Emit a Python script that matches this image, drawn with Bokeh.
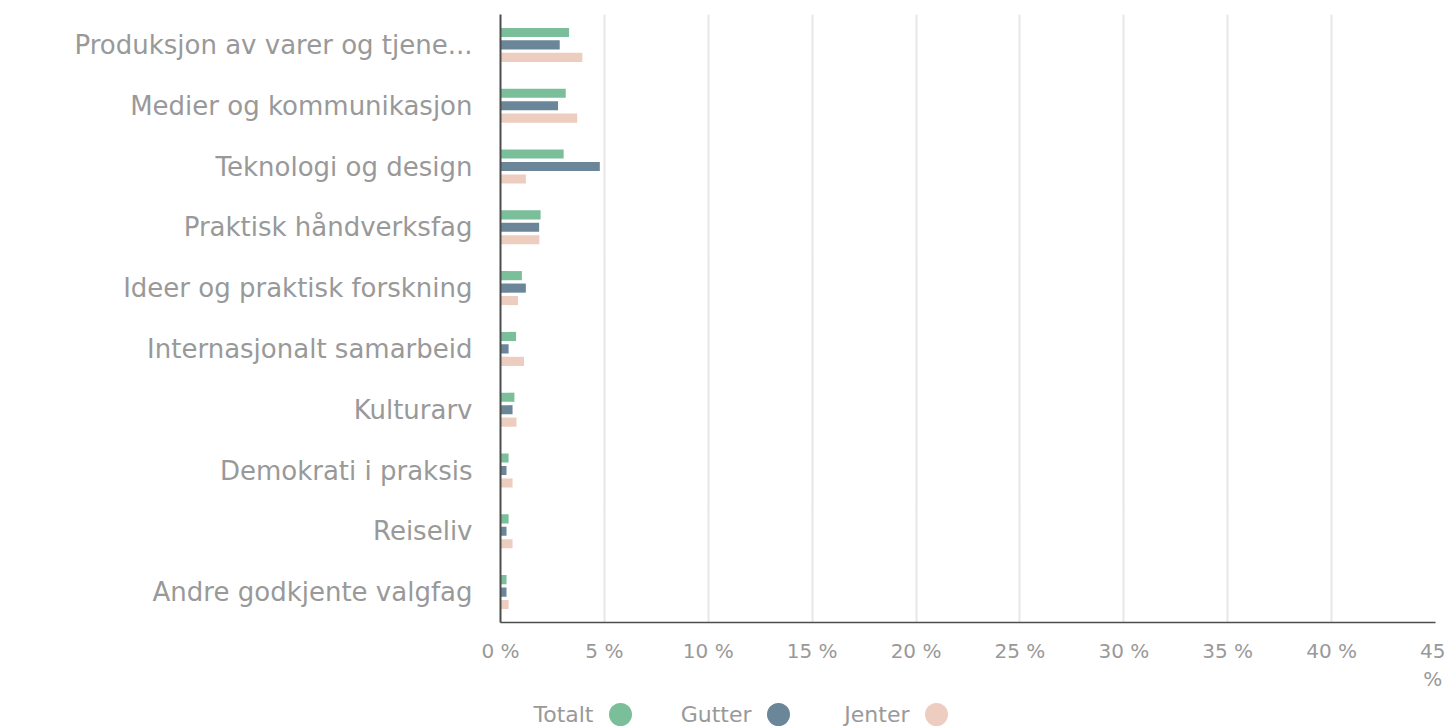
from bokeh.plotting import figure
from bokeh.models import ColumnDataSource, FactorRange, FixedTicker, Range1d
from bokeh.transform import dodge
from bokeh.layouts import column
from bokeh.core.properties import value
from bokeh.embed import file_html
from bokeh.resources import INLINE

categories = [
    "Produksjon av varer og tjene...",
    "Medier og kommunikasjon",
    "Teknologi og design",
    "Praktisk håndverksfag",
    "Ideer og praktisk forskning",
    "Internasjonalt samarbeid",
    "Kulturarv",
    "Demokrati i praksis",
    "Reiseliv",
    "Andre godkjente valgfag",
]
totalt = [3.30, 3.14, 3.04, 1.93, 1.03, 0.75, 0.67, 0.39, 0.39, 0.29]
gutter = [2.85, 2.77, 4.78, 1.86, 1.22, 0.39, 0.58, 0.29, 0.29, 0.29]
jenter = [3.94, 3.69, 1.22, 1.87, 0.84, 1.13, 0.77, 0.58, 0.58, 0.39]
series_names = ["Totalt", "Gutter", "Jenter"]
colors = ["#7bbe9a", "#6b8699", "#edcdc0"]
tick_values = [0, 5, 10, 15, 20, 25, 30, 35, 40, 45]
tick_labels = {0: "0 %", 5: "5 %", 10: "10 %", 15: "15 %", 20: "20 %",
               25: "25 %", 30: "30 %", 35: "35 %", 40: "40 %", 45: "45\n%"}

FRAME_LEFT = 500
FRAME_W = 935

src = ColumnDataSource(dict(cat=categories, Totalt=totalt, Gutter=gutter, Jenter=jenter))

p = figure(
    frame_width=FRAME_W, frame_height=608,
    y_range=FactorRange(*reversed(categories)),
    x_range=(0, 45),
    output_backend="svg", toolbar_location=None,
    min_border_left=FRAME_LEFT, min_border_right=10, min_border_top=14, min_border_bottom=78,
)
p.outline_line_color = None
p.background_fill_color = "white"

offsets = [-0.205, 0.0, 0.205]
for name, col, off in zip(series_names, colors, offsets):
    p.hbar(y=dodge("cat", -off, range=p.y_range), right=name, left=0, height=0.15,
           source=src, color=col, line_color=None)

# grid
p.ygrid.grid_line_color = None
p.xgrid.grid_line_color = "#e6e6e6"
p.xgrid.grid_line_width = 2
p.xaxis.ticker = FixedTicker(ticks=tick_values)
p.xaxis.major_label_overrides = tick_labels

for ax in (p.xaxis, p.yaxis):
    ax.axis_line_color = "#4d4d4d"
    ax.axis_line_width = 2
    ax.major_tick_line_color = None
    ax.minor_tick_line_color = None
    ax.major_label_text_color = "#999999"
    ax.major_label_text_font = "DejaVu Sans"

p.yaxis.major_label_text_font_size = "26px"
p.yaxis.major_label_standoff = 22
p.xaxis.major_label_text_font_size = "20px"
p.xaxis.major_label_standoff = 10
p.xaxis.axis_line_width = 1.5

# legend strip (label followed by a dot); its x range is in page pixels
leg = figure(
    frame_width=FRAME_W, height=28,
    x_range=Range1d(FRAME_LEFT, FRAME_LEFT + FRAME_W), y_range=Range1d(0, 1),
    output_backend="svg", toolbar_location=None,
    min_border_left=FRAME_LEFT, min_border_right=10, min_border_top=0, min_border_bottom=0,
)
leg.axis.visible = False
leg.grid.visible = False
leg.outline_line_color = None

step = 158
first_dot = 620
dot_x = [first_dot + i * step for i in range(len(series_names))]
text_x = [d - 27 for d in dot_x]
leg_src = ColumnDataSource(dict(name=series_names, color=colors, dx=dot_x, tx=text_x,
                                y=[0.5] * len(series_names)))
leg.text(x="tx", y="y", text="name", source=leg_src, text_align="right",
         text_baseline="middle", text_color="#999999",
         text_font=value("DejaVu Sans"), text_font_size="22px")
leg.scatter(x="dx", y="y", source=leg_src, marker="circle", size=23,
            color="color", line_color=None)

layout = column(p, leg, spacing=0)
open("out.html", "w").write(file_html(layout, INLINE))
